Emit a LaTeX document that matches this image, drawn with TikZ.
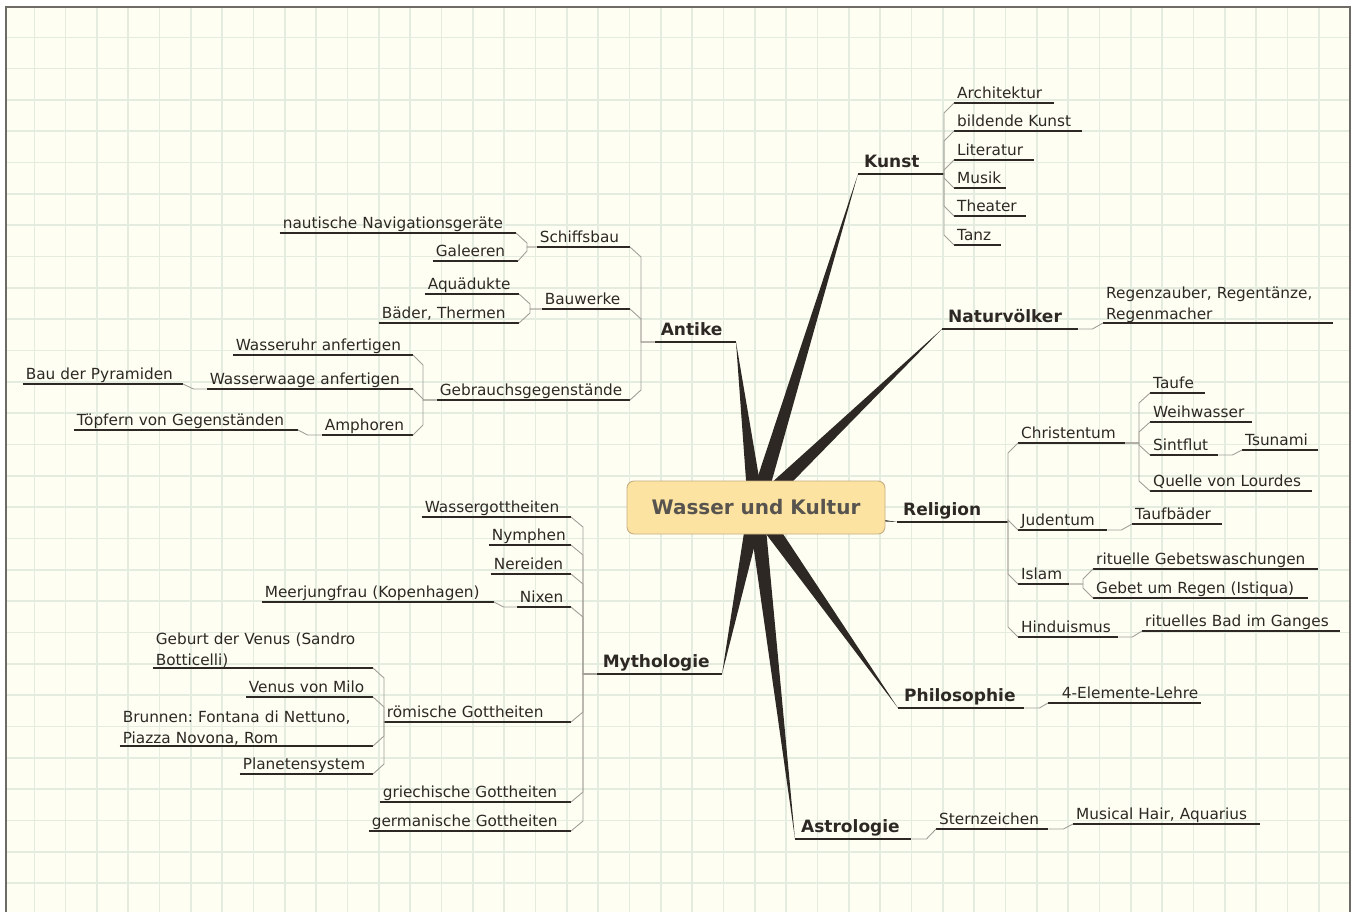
\documentclass[tikz,border=0pt]{standalone}
\usepackage{fontspec}
\setmainfont{DejaVu Sans}
\usetikzlibrary{calc}
\frenchspacing

\definecolor{paper}{HTML}{FEFEF3}
\definecolor{gridc}{HTML}{E4ECE0}
\definecolor{framec}{HTML}{6E6A66}
\definecolor{ink}{HTML}{2D2823}
\definecolor{twigc}{HTML}{A29F98}
\definecolor{boxfill}{HTML}{FDE3A1}
\definecolor{boxline}{HTML}{C6AE80}
\definecolor{hubtext}{HTML}{57534E}

\newcommand{\leaffont}{\fontsize{15.3}{20.7}\selectfont}
\newcommand{\topicfont}{\bfseries\fontsize{17}{21}\selectfont}
% bevelled elbow from a parent line to a child line
\newcommand{\mmlink}[3]{\draw[twig] let \p1=(#1), \p2=(#3) in (#1) -- (#2pt,\y1) -- ($(#2pt,\y2)!10pt!(#2pt,\y1)$) -- (#3);}

\begin{document}
\begin{tikzpicture}[x=1pt,y=-1pt,
    leaf/.style={inner xsep=3pt, inner ysep=1pt, text depth=3pt, align=left, font=\leaffont, text=ink},
    leaftwo/.style={inner xsep=3pt, inner ysep=0.5pt, align=left, font=\leaffont, text=ink},
    rl/.style={leaf, anchor=south west, text width=#1},
    ll/.style={leaf, anchor=south east, text width=#1},
    topic/.style={inner xsep=6pt, inner ysep=2pt, text depth=4.5pt, align=left, font=\topicfont, text=ink, text width=#1},
    uline/.style={draw=ink, line width=1.2pt},
    twig/.style={draw=twigc, line width=0.9pt},
    trunk/.style={fill=ink},
    hubbox/.style={draw=boxline, fill=boxfill, rounded corners=7pt, line width=0.9pt,
        minimum width=258pt, minimum height=53pt, font=\bfseries\fontsize{20}{24}\selectfont, text=hubtext}]
\useasboundingbox (0,0) rectangle (1354,911);

% sheet
\fill[white] (0,0) rectangle (1354,911);
\fill[paper] (6,7) rectangle (1350,925);
\begin{scope}
  \clip (6,7) rectangle (1350,925);
  \foreach \i in {0,...,41} \draw[gridc, line width=1.6pt] ({34.3+31.33*\i},7) -- ++(0,920);
  \foreach \j in {0,...,28} \draw[gridc, line width=1.6pt] (6,{37.3+31.33*\j}) -- ++(1350,0);
\end{scope}
\draw[framec, line width=1.5pt] (6,925) -- (6,7) -- (1350,7) -- (1350,925);

\coordinate (hub) at (756,507.5);

% Kunst
\node (kunst) at (858,174) [topic=74, anchor=south west] {Kunst};
\node (archi) at (954,103) [rl=94] {Architektur};
\node (bild) at (954,131) [rl=122] {bildende Kunst};
\node (lit) at (954,160) [rl=74] {Literatur};
\node (musik) at (954,188) [rl=46] {Musik};
\node (theater) at (954,216) [rl=66] {Theater};
\node (tanz) at (954,245) [rl=41] {Tanz};

% Naturvoelker
\node (natur) at (942,329) [topic=124, anchor=south west] {Naturvölker};
\node (regen) at (1103,323) [leaftwo, anchor=south west, text width=224] {Regenzauber, Regentänze,\\Regenmacher};

% Religion
\node (religion) at (897,522) [topic=99, anchor=south west] {Religion};
\node (christ) at (1018,443) [rl=101] {Christentum};
\node (taufe) at (1150,393) [rl=49] {Taufe};
\node (weih) at (1150,422) [rl=96] {Weihwasser};
\node (sint) at (1150,455) [rl=62] {Sintflut};
\node (tsunami) at (1242,450) [rl=70] {Tsunami};
\node (quelle) at (1150,491) [rl=156] {Quelle von Lourdes};
\node (juden) at (1018,530) [rl=83] {Judentum};
\node (taufb) at (1132,524) [rl=84] {Taufbäder};
\node (islam) at (1018,584) [rl=45] {Islam};
\node (gebetw) at (1093,569) [rl=219] {rituelle Gebetswaschungen};
\node (istiqua) at (1093,598) [rl=209] {Gebet um Regen (Istiqua)};
\node (hindu) at (1018,637) [rl=94] {Hinduismus};
\node (ganges) at (1142,631) [rl=192] {rituelles Bad im Ganges};

% Philosophie, Astrologie
\node (philo) at (898,708) [topic=114, anchor=south west] {Philosophie};
\node (elem) at (1048,703) [rl=147, align=right] {4-Elemente-Lehre};
\node (astro) at (795,839) [topic=104, anchor=south west] {Astrologie};
\node (stern) at (936,829) [rl=106] {Sternzeichen};
\node (hair) at (1073,824) [rl=181] {Musical Hair, Aquarius};

% Antike
\node (antike) at (736,342) [topic=69, anchor=south east] {Antike};
\node (schiff) at (630,247) [ll=87] {Schiffsbau};
\node (nautisch) at (516,233) [ll=230] {nautische Navigationsgeräte};
\node (galeeren) at (518,261) [ll=79] {Galeeren};
\node (bauwerke) at (630,309) [ll=82] {Bauwerke};
\node (aqua) at (519,294) [ll=88] {Aquädukte};
\node (baeder) at (519,323) [ll=134] {Bäder, Thermen};
\node (gebrauch) at (630,400) [ll=187] {Gebrauchsgegenstände};
\node (uhr) at (413,355) [ll=174] {Wasseruhr anfertigen};
\node (waage) at (413,389) [ll=200] {Wasserwaage anfertigen};
\node (pyramid) at (183,384) [ll=154] {Bau der Pyramiden};
\node (amphoren) at (413,435) [ll=85] {Amphoren};
\node (toepfern) at (298,430) [ll=218] {Töpfern von Gegenständen};

% Mythologie
\node (mytho) at (722,674) [topic=113, anchor=south east] {Mythologie};
\node (wgott) at (571,517) [ll=143] {Wassergottheiten};
\node (nymph) at (571,545) [ll=76] {Nymphen};
\node (nereid) at (571,574) [ll=74] {Nereiden};
\node (nixen) at (571,607) [ll=48] {Nixen};
\node (meer) at (494,602) [ll=226] {Meerjungfrau (Kopenhagen)};
\node (roem) at (571,722) [ll=181] {römische Gottheiten};
\node (geburt) at (373,668) [leaftwo, anchor=south east, text width=214] {Geburt der Venus (Sandro\\Botticelli)};
\node (milo) at (373,697) [ll=121] {Venus von Milo};
\node (brunnen) at (373,746) [leaftwo, anchor=south east, text width=247] {Brunnen: Fontana di Nettuno,\\Piazza Novona, Rom};
\node (planet) at (373,774) [ll=127] {Planetensystem};
\node (griech) at (571,802) [ll=185] {griechische Gottheiten};
\node (german) at (571,831) [ll=196] {germanische Gottheiten};

% underlines
\foreach \n in {kunst,archi,bild,lit,musik,theater,tanz,natur,regen,religion,christ,taufe,weih,sint,tsunami,quelle,
    juden,taufb,islam,gebetw,istiqua,hindu,ganges,philo,elem,astro,stern,hair,antike,schiff,nautisch,galeeren,
    bauwerke,aqua,baeder,gebrauch,uhr,waage,pyramid,amphoren,toepfern,mytho,wgott,nymph,nereid,nixen,meer,roem,
    geburt,milo,brunnen,planet,griech,german}
  \draw[uline] (\n.south west) -- (\n.south east);

% thin links
\foreach \c in {archi,bild,lit,musik,theater,tanz} {\mmlink{kunst.south east}{944}{\c.south west}}
\draw[twig] (natur.south east) -- ++(14,0) -- (regen.south west);
\foreach \c in {christ,juden,islam,hindu} {\mmlink{religion.south east}{1008}{\c.south west}}
\foreach \c in {taufe,weih,sint,quelle} {\mmlink{christ.south east}{1139}{\c.south west}}
\draw[twig] (sint.south east) -- ++(14,0) -- (tsunami.south west);
\draw[twig] (juden.south east) -- ++(14,0) -- (taufb.south west);
\foreach \c in {gebetw,istiqua} {\mmlink{islam.south east}{1083}{\c.south west}}
\draw[twig] (hindu.south east) -- ++(14,0) -- (ganges.south west);
\draw[twig] (philo.south east) -- ++(15,0) -- (elem.south west);
\draw[twig] (astro.south east) -- ++(15,0) -- (stern.south west);
\draw[twig] (stern.south east) -- ++(15,0) -- (hair.south west);
\foreach \c in {schiff,bauwerke,gebrauch} {\mmlink{antike.south west}{641}{\c.south east}}
\foreach \c in {nautisch,galeeren} {\mmlink{schiff.south west}{527}{\c.south east}}
\foreach \c in {aqua,baeder} {\mmlink{bauwerke.south west}{530}{\c.south east}}
\foreach \c in {uhr,waage,amphoren} {\mmlink{gebrauch.south west}{423}{\c.south east}}
\draw[twig] (waage.south west) -- ++(-13,0) -- (pyramid.south east);
\draw[twig] (amphoren.south west) -- ++(-14,0) -- (toepfern.south east);
\foreach \c in {wgott,nymph,nereid,nixen,roem,griech,german} {\mmlink{mytho.south west}{583}{\c.south east}}
\draw[twig] (nixen.south west) -- ++(-13,0) -- (meer.south east);
\foreach \c in {geburt,milo,brunnen,planet} {\mmlink{roem.south west}{384}{\c.south east}}

% tapered main branches
\foreach \t in {kunst.south west,natur.south west,religion.south west,philo.south west,astro.south west,
    antike.south east,mytho.south east}
  \fill[trunk] ($(hub)!8pt!90:(\t)$) -- (\t) -- ($(hub)!8pt!-90:(\t)$) -- cycle;

\node (root) at (hub) [hubbox] {Wasser und Kultur};
\end{tikzpicture}
\end{document}
